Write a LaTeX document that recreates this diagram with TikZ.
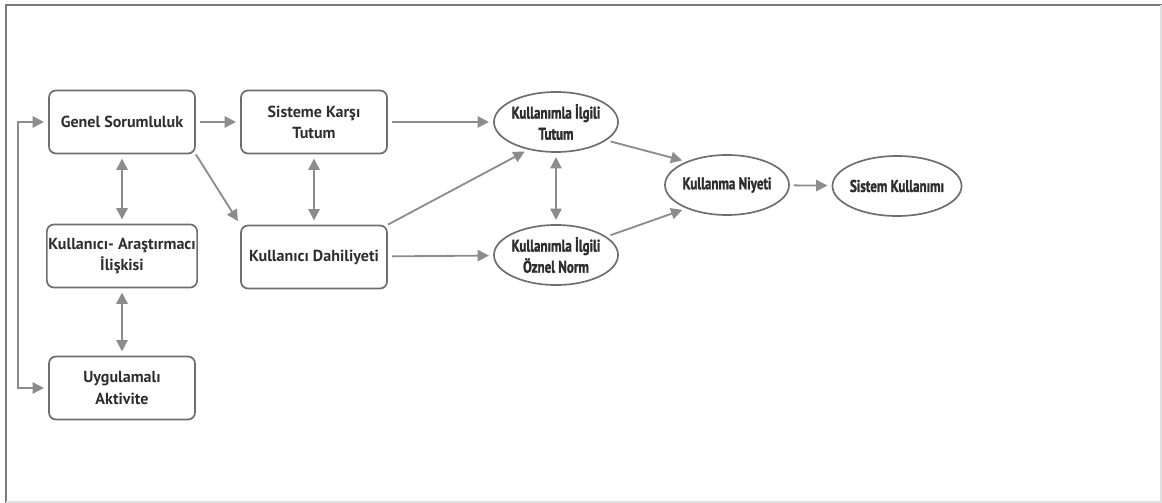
\documentclass[tikz,border=0pt]{standalone}
\usepackage{fontspec}
\setmainfont{PT Sans}
\newfontfamily\darfont[FakeStretch=0.77,FakeBold=1.6,UprightFont={* Bold}]{PT Sans}
\usetikzlibrary{arrows.meta,shapes.geometric}
\definecolor{framegray}{HTML}{7A7A7A}
\definecolor{edgegray}{HTML}{6E6E6E}
\definecolor{arrgray}{HTML}{8C8C8C}
\definecolor{txtgray}{HTML}{2E2E2E}

\begin{document}
\begin{tikzpicture}[x=0.025cm,y=-0.025cm,
		kutu/.style={draw=edgegray,line width=1.2pt,rounded corners=5pt,minimum width=3.65cm,minimum height=1.575cm,align=center,text=txtgray,font=\bfseries\fontsize{11.4}{15}\selectfont,inner sep=1pt},
		elips/.style={ellipse,draw=edgegray,line width=1.2pt,minimum width=3.1cm,minimum height=1.5cm,align=center,text=txtgray,font=\darfont\fontsize{12}{15}\selectfont,inner xsep=-1pt,inner ysep=0pt},
		ok/.style={draw=arrgray,line width=1.3pt,-{Triangle[length=8pt,width=8pt]},shorten >=3pt,shorten <=3pt},
		cift/.style={ok,{Triangle[length=8pt,width=8pt]}-{Triangle[length=8pt,width=8pt]}}]
				\useasboundingbox (0,0) rectangle (1162,503);
				% cerceve
				\draw[framegray,line width=1.4pt] (6,503) -- (6,5) -- (1162,5);
				\draw[black!12,line width=0.8pt] (6,502) -- (1161,502) -- (1161,5);
				% kutular
				\node[kutu] (gen) at (122,122) {Genel Sorumluluk};
				\node[kutu] (ara) at (122,256) {Kullanıcı- Araştırmacı\\İlişkisi};
				\node[kutu] (uyg) at (122,388) {Uygulamalı\\Aktivite};
				\node[kutu] (sis) at (314,122) {Sisteme Karşı\\Tutum};
				\node[kutu] (dah) at (314,257) {Kullanıcı Dahiliyeti};
				% elipsler
				\node[elips] (tut) at (556,122) {Kullanımla İlgili\\Tutum};
				\node[elips] (nor) at (556,255) {Kullanımla İlgili\\Öznel Norm};
				\node[elips] (niy) at (727,185) {Kullanma Niyeti};
				\node[elips] (kul) at (897,186) {Sistem Kullanımı};
				\coordinate (geri) at (18,255);
				% oklar
				\draw[ok] (gen) -- (sis);
				\draw[ok] (sis) -- (tut);
				\draw[ok] (dah) -- (nor);
				\draw[ok] (niy) -- (kul);
				\draw[ok,shorten <=0pt] (gen.south east) -- (dah.north west);
				\draw[ok,shorten <=0pt] (dah.north east) -- (tut.225);
				\draw[ok] (tut.-20) -- (niy.150);
				\draw[ok] (nor.20) -- (niy.-150);
				\draw[cift] (gen) -- (ara);
				\draw[cift] (ara) -- (uyg);
				\draw[cift] (sis) -- (dah);
				\draw[cift] (tut) -- (nor);
				\draw[cift] (gen.west) -| (geri) |- (uyg.west);
\end{tikzpicture}
\end{document}
